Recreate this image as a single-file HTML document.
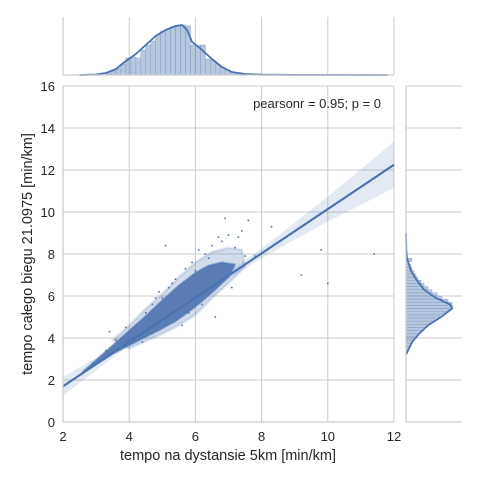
<!DOCTYPE html>
<html><head><meta charset="utf-8"><style>
body{margin:0;background:#fff;}
svg{font-family:"Liberation Sans",sans-serif;}
</style></head><body>
<svg id="c" width="480" height="480" viewBox="0 0 480 480">
<rect width="480" height="480" fill="#fff"/>
<g id="grid"></g>
<g id="marks"></g>
<g id="axes"></g>
<text x="381" y="108" text-anchor="end" font-size="13" fill="#262626">pearsonr = 0.95; p = 0</text>
<text x="228" y="460" text-anchor="middle" font-size="14.5" fill="#262626">tempo na dystansie 5km [min/km]</text>
<text transform="translate(32,254) rotate(-90)" text-anchor="middle" font-size="14.5" fill="#262626">tempo całego biegu 21.0975 [min/km]</text>
</svg>
<script>
const xTicks=[2,4,6,8,10,12];
const yTicks=[0,2,4,6,8,10,12,14,16];
const regX=[2,12];
const regY=[1.7,12.25];
const ciX=[2,3,4,5,6,7,8,9,10,11,12];
const ciHalf=[0.45,0.3,0.15,0.08,0.08,0.15,0.25,0.4,0.6,0.85,1.1];
const coreUpper=[[2.6,2.4],[3.0,2.95],[3.5,3.65],[4.0,4.35],[4.5,5.05],[5.0,5.8],[5.5,6.5],[6.0,7.1],[6.4,7.45],[6.8,7.6],[7.2,7.5]];
const coreLower=[[7.0,6.9],[6.6,6.3],[6.2,5.75],[5.8,5.25],[5.4,4.8],[5.0,4.45],[4.5,4.05],[4.0,3.65],[3.5,3.25],[3.0,2.75],[2.6,2.35]];
const haloUpper=[[3.5,3.9],[4.0,4.6],[4.5,5.4],[5.0,6.1],[5.5,6.9],[6.0,7.6],[6.5,8.1],[7.0,8.3],[7.4,8.2]];
const haloLower=[[7.5,7.4],[7.0,6.6],[6.5,5.9],[6.0,5.1],[5.5,4.6],[5.0,4.2],[4.5,3.85],[4.0,3.5]];
const outX=[2.9,3.1,3.3,3.6,3.9,4.2,4.5,4.7,5.0,5.2,5.4,5.9,6.1,6.3,6.5,6.8,7.0,7.2,7.4,7.6,6.9,7.3,5.1,4.0,4.4,5.6,6.6,7.8,8.3,9.2,9.8,10.0,11.4,6.2,5.8,3.4,4.9,5.3,6.0,7.1,6.7,7.5,6.4,5.7,4.8];
const outY=[2.8,3.0,3.4,3.9,4.5,4.6,5.2,5.6,5.9,6.4,6.8,7.6,8.2,8.0,8.4,8.6,8.9,8.3,9.1,9.6,9.7,8.8,8.4,4.0,3.8,4.6,5.0,7.9,9.3,7.0,8.2,6.6,8.0,5.6,5.2,4.3,6.2,6.6,7.2,6.4,8.8,7.9,7.8,7.3,5.9];
const histBins=[3.3,3.45,3.6,3.75,3.9,4.05,4.2,4.35,4.5,4.65,4.8,4.95,5.1,5.25,5.4,5.55,5.7,5.85,6.0,6.15,6.3,6.45,6.6,6.75,6.9,7.05,7.2,7.35];
const histX=[2,4,7,11,17,18,17,25,30,34,40,44,46,48,49,50,49,30,29,30,16,15,11,8,5,3,2,1];
const kdeXv=[2.5,3,3.3,3.6,3.9,4.2,4.5,4.8,5.1,5.4,5.6,5.75,5.9,6.1,6.3,6.5,6.8,7.1,7.5,8,9,11.8];
const kdeXd=[0,0.5,2,6,14,21,30,39,45,49,50,45,33,28,22,16,8,3,1,0.3,0.1,0];
const histYBins=[3.3,3.45,3.6,3.75,3.9,4.05,4.2,4.35,4.5,4.65,4.8,4.95,5.1,5.25,5.4,5.55,5.7,5.85,6.0,6.15,6.3,6.45,6.6,6.75,6.9,7.05,7.2,7.35,7.5,7.65,7.8];
const histY=[1,3,5,6,8,11,14,17,21,25,29,34,39,43,47,46,42,36,31,26,22,18,15,12,10,8,6,5,3,6,1];
const kdeYv=[3.2,3.5,3.8,4.2,4.6,5.0,5.4,5.6,5.9,6.3,6.8,7.2,7.5,7.8,8.2,9];
const kdeYd=[0,3,6,13,22,35,46,44,30,18,10,5,3,1,0.3,0];

const NS="http://www.w3.org/2000/svg";
const X=v=>63+(v-2)*(331/10), Y=v=>422-v*(336/16);
const mk=(t,a,p)=>{const e=document.createElementNS(NS,t);for(const k in a)e.setAttribute(k,a[k]);document.getElementById(p).appendChild(e);return e;};
const G="#cccccc";
xTicks.forEach(t=>{
 let e=mk('line',{x1:X(t),x2:X(t),y1:86,y2:422,stroke:G},'grid');
 
 e=mk('line',{x1:X(t),x2:X(t),y1:17,y2:75,stroke:G},'grid');
 
 e=mk('text',{x:X(t),y:441,'text-anchor':'middle','font-size':13,fill:'#262626'},'axes');e.textContent=t;
 
});
yTicks.forEach(t=>{
 let e=mk('line',{x1:63,x2:394,y1:Y(t),y2:Y(t),stroke:G},'grid');
 
 e=mk('line',{x1:406,x2:462,y1:Y(t),y2:Y(t),stroke:G},'grid');
 
 e=mk('text',{x:55,y:Y(t)+5,'text-anchor':'end','font-size':13,fill:'#262626'},'axes');e.textContent=t;
 
});
[[63,86,63,422],[63,422,394,422],[63,17,63,75],[63,75,394,75],[406,86,406,422],[406,422,462,422]].forEach(s=>{
 const e=mk('line',{x1:s[0],y1:s[1],x2:s[2],y2:s[3],stroke:G,'stroke-width':1.2},'axes');
 
});
const B="#4c72b0";
const bw=0.15;
histBins.forEach((b,i)=>{
 const e=mk('rect',{x:X(b),y:75-histX[i],width:X(b+bw)-X(b),height:histX[i],fill:B,'fill-opacity':0.4,stroke:'#8fa3c8','stroke-width':0.5},'marks');
 
});
let d=kdeXv.map((v,i)=>(i?'L':'M')+X(v)+','+(75-kdeXd[i])).join('');
let e=mk('path',{d:d,fill:'none',stroke:B,'stroke-width':1.8,'stroke-linejoin':'round'},'marks');

histYBins.forEach((b,i)=>{
 const e=mk('rect',{x:406,y:Y(b+bw),width:histY[i],height:Y(b)-Y(b+bw),fill:B,'fill-opacity':0.4,stroke:'#8fa3c8','stroke-width':0.5},'marks');
 
});
d=kdeYv.map((v,i)=>(i?'L':'M')+(406+kdeYd[i])+','+Y(v)).join('');
e=mk('path',{d:d,fill:'none',stroke:B,'stroke-width':1.8,'stroke-linejoin':'round'},'marks');

const slope=(regY[1]-regY[0])/(regX[1]-regX[0]);
const reg=v=>regY[0]+(v-regX[0])*slope;
d=ciX.map((v,i)=>(i?'L':'M')+X(v)+','+Y(reg(v)+ciHalf[i])).join('')+ciX.slice().reverse().map((v,j)=>{const i=ciX.length-1-j;return 'L'+X(v)+','+Y(reg(v)-ciHalf[i]);}).join('')+'Z';
e=mk('path',{d:d,fill:B,'fill-opacity':0.15},'marks');

const halo=haloUpper.concat(haloLower);
e=mk('polygon',{points:halo.map(p=>X(p[0])+','+Y(p[1])).join(' '),fill:B,'fill-opacity':0.25,stroke:B,'stroke-opacity':0.15,'stroke-width':3,'stroke-linejoin':'round'},'marks');

const poly=coreUpper.concat(coreLower);
e=mk('polygon',{points:poly.map(p=>X(p[0])+','+Y(p[1])).join(' '),fill:B,'fill-opacity':0.9,stroke:B,'stroke-opacity':0.5,'stroke-width':2,'stroke-linejoin':'round'},'marks');

outX.forEach((v,i)=>{
 const e=mk('rect',{x:X(v)-0.8,y:Y(outY[i])-0.8,width:1.6,height:1.6,fill:B},'marks');
 
});
e=mk('line',{x1:X(regX[0]),y1:Y(regY[0]),x2:X(regX[1]),y2:Y(regY[1]),stroke:B,'stroke-width':2.2},'marks');

</script>
</body></html>
